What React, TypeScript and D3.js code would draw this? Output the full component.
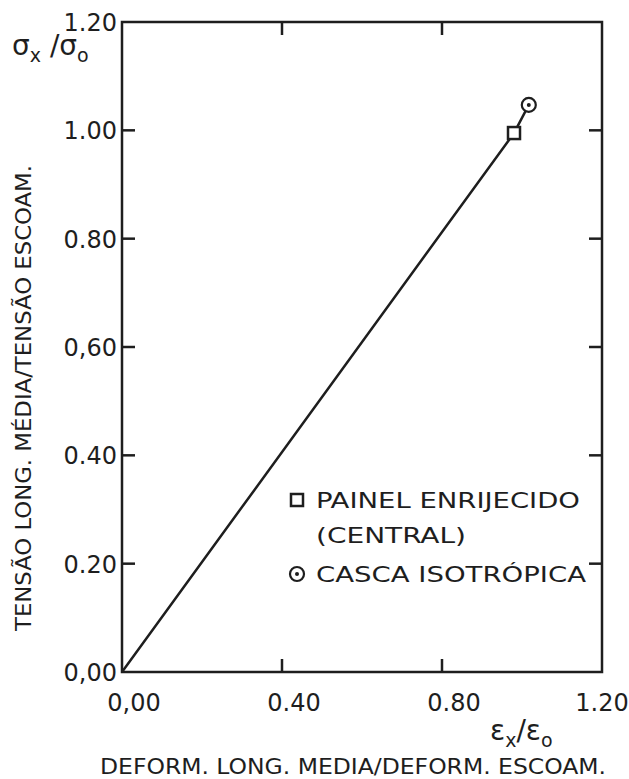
import React, { useEffect, useRef } from "react";
import * as d3 from "d3";

// values
const xTicks = [0, 0.4, 0.8, 1.2];
const xTickLabels = ["0,00", "0.40", "0.80", "1.20"];
const yTicks = [0, 0.2, 0.4, 0.6, 0.8, 1.0, 1.2];
const yTickLabels = ["0,00", "0.20", "0.40", "0,60", "0.80", "1.00", "1.20"];

// curve drawn through the origin and both specimens
const curveX = [0, 0.98, 1.017];
const curveY = [0, 0.995, 1.047];

const panelPoint = { x: 0.98, y: 0.995 }; // painel enrijecido (central)
const shellPoint = { x: 1.017, y: 1.047 }; // casca isotropica

const legendLabels = ["PAINEL ENRIJECIDO", "(CENTRAL)", "CASCA ISOTRÓPICA"];

const W = 629;
const H = 779;
const ink = "#1e1e1e";
const letterFont = "'DejaVu Sans Condensed', 'DejaVu Sans', sans-serif";
const digitFont = "'DejaVu Sans', sans-serif";

export default function App() {
  const ref = useRef<SVGSVGElement>(null);

  useEffect(() => {
    const svg = d3.select(ref.current);
    svg.selectAll("*").remove();

    const left = 122, right = 602, top = 22, bottom = 672;
    const x = d3.scaleLinear().domain([0, 1.2]).range([left, right]);
    const y = d3.scaleLinear().domain([0, 1.2]).range([bottom, top]);
    const tick = 13;

    // frame
    svg
      .append("rect")
      .attr("x", left)
      .attr("y", top)
      .attr("width", right - left)
      .attr("height", bottom - top)
      .attr("fill", "none")
      .attr("stroke", ink)
      .attr("stroke-width", 2.5);

    // inward ticks on the four sides
    const g = svg.append("g").attr("stroke", ink).attr("stroke-width", 2.5);
    xTicks.slice(1, -1).forEach(v => {
      g.append("line").attr("x1", x(v)).attr("x2", x(v)).attr("y1", bottom).attr("y2", bottom - tick);
      g.append("line").attr("x1", x(v)).attr("x2", x(v)).attr("y1", top).attr("y2", top + tick);
    });
    yTicks.slice(1, -1).forEach(v => {
      g.append("line").attr("x1", left).attr("x2", left + tick).attr("y1", y(v)).attr("y2", y(v));
      g.append("line").attr("x1", right).attr("x2", right - tick).attr("y1", y(v)).attr("y2", y(v));
    });

    // tick labels
    svg
      .selectAll("text.ylab")
      .data(yTicks)
      .enter()
      .append("text")
      .attr("class", "ylab")
      .attr("x", left - 5)
      .attr("y", d => y(d) + 9)
      .attr("text-anchor", "end")
      .attr("font-family", digitFont)
      .attr("font-size", 24)
      .attr("fill", ink)
      .text((d, i) => yTickLabels[i]);

    svg
      .selectAll("text.xlab")
      .data(xTicks)
      .enter()
      .append("text")
      .attr("class", "xlab")
      .attr("x", (d, i) => x(d) + (i === xTicks.length - 1 ? 0 : 12))
      .attr("y", bottom + 39)
      .attr("text-anchor", "middle")
      .attr("font-family", digitFont)
      .attr("font-size", 24)
      .attr("fill", ink)
      .text((d, i) => xTickLabels[i]);

    // the curve
    const line = d3
      .line<number>()
      .x(d => x(d))
      .y((d, i) => y(curveY[i]));
    svg
      .append("path")
      .attr("d", line(curveX))
      .attr("fill", "none")
      .attr("stroke", ink)
      .attr("stroke-width", 2.5);

    // markers
    const drawSquare = (cx: number, cy: number) =>
      svg
        .append("rect")
        .attr("x", cx - 6)
        .attr("y", cy - 6)
        .attr("width", 12)
        .attr("height", 12)
        .attr("fill", "white")
        .attr("stroke", ink)
        .attr("stroke-width", 2.5);
    const drawDotCircle = (cx: number, cy: number) => {
      svg
        .append("circle")
        .attr("cx", cx)
        .attr("cy", cy)
        .attr("r", 7)
        .attr("fill", "white")
        .attr("stroke", ink)
        .attr("stroke-width", 2.2);
      svg.append("circle").attr("cx", cx).attr("cy", cy).attr("r", 2).attr("fill", ink);
    };

    drawSquare(x(panelPoint.x), y(panelPoint.y));
    drawDotCircle(x(shellPoint.x), y(shellPoint.y));

    // legend
    const lx = 297;
    drawSquare(lx, 500);
    drawDotCircle(lx, 574);
    const legendPos = [
      { x: 316, y: 508, len: 264 },
      { x: 316, y: 543, len: 150 },
      { x: 316, y: 582, len: 270 },
    ];
    legendLabels.forEach((t, i) => {
      svg
        .append("text")
        .attr("x", legendPos[i].x)
        .attr("y", legendPos[i].y)
        .attr("font-family", letterFont)
        .attr("font-size", 22)
        .attr("fill", ink)
        .attr("textLength", legendPos[i].len)
        .attr("lengthAdjust", "spacingAndGlyphs")
        .text(t);
    });

    // axis titles
    const sig = svg
      .append("text")
      .attr("x", 12)
      .attr("y", 55)
      .attr("font-family", digitFont)
      .attr("font-size", 28)
      .attr("fill", ink);
    sig.append("tspan").text("σ");
    sig.append("tspan").attr("font-size", 19).attr("dy", 7).text("x");
    sig.append("tspan").attr("dy", -7).text(" /σ");
    sig.append("tspan").attr("font-size", 19).attr("dy", 7).text("o");

    svg
      .append("text")
      .attr("transform", "translate(31,398) rotate(-90)")
      .attr("text-anchor", "middle")
      .attr("font-family", letterFont)
      .attr("font-size", 22)
      .attr("fill", ink)
      .attr("textLength", 466)
      .attr("lengthAdjust", "spacingAndGlyphs")
      .text("TENSÃO LONG. MÉDIA/TENSÃO ESCOAM.");

    const eps = svg
      .append("text")
      .attr("x", 490)
      .attr("y", 740)
      .attr("font-family", digitFont)
      .attr("font-size", 28)
      .attr("fill", ink);
    eps.append("tspan").text("ε");
    eps.append("tspan").attr("font-size", 19).attr("dy", 7).text("x");
    eps.append("tspan").attr("dy", -7).text("/ε");
    eps.append("tspan").attr("font-size", 19).attr("dy", 7).text("o");

    svg
      .append("text")
      .attr("x", 100)
      .attr("y", 774)
      .attr("font-family", letterFont)
      .attr("font-size", 22)
      .attr("fill", ink)
      .attr("textLength", 506)
      .attr("lengthAdjust", "spacingAndGlyphs")
      .text("DEFORM. LONG. MEDIA/DEFORM. ESCOAM.");
  }, []);

  return (
    <svg
      ref={ref}
      width={W}
      height={H}
      style={{ position: "absolute", left: 0, top: 0, background: "white" }}
    />
  );
}
